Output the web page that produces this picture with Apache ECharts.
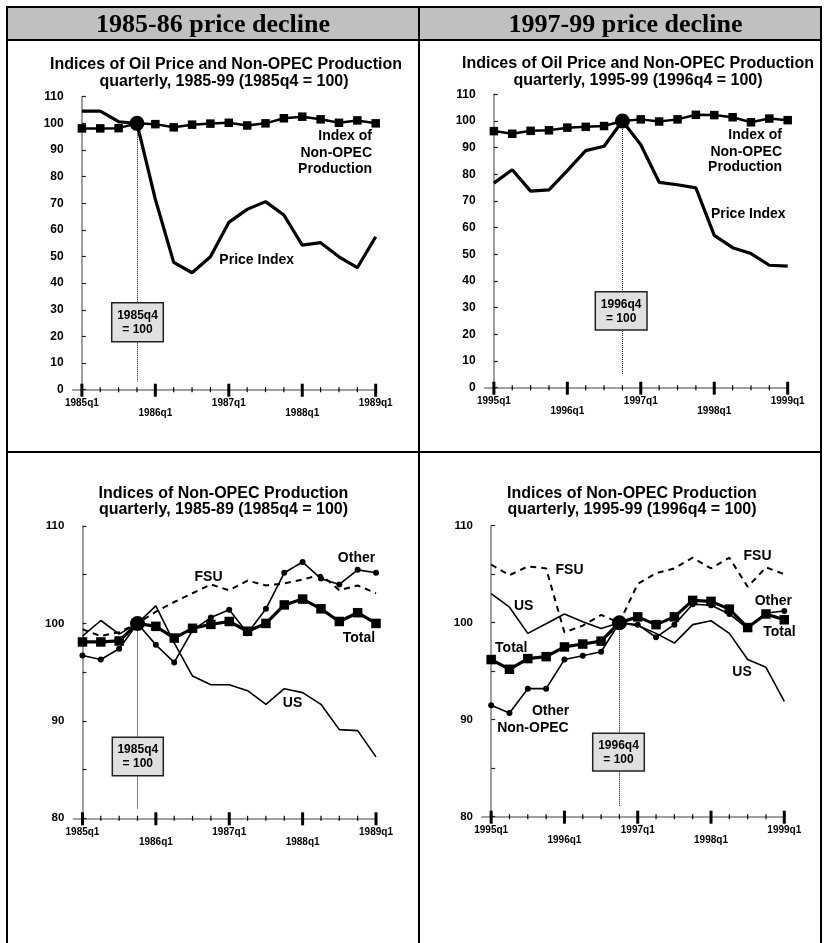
<!DOCTYPE html>
<html>
<head>
<meta charset="utf-8">
<script src="https://cdn.jsdelivr.net/npm/echarts@6/dist/echarts.min.js"></script>
<style>
  html, body { margin: 0; padding: 0; background: #fff; }
  #chart { width: 825px; height: 943px; }
</style>
</head>
<body>
<div id="chart"></div>
<script>
// Quarter positions along each x axis (0 = first quarter, 16 = last)
const quarterTicks = [0, 1, 2, 3, 4, 5, 6, 7, 8, 9, 10, 11, 12, 13, 14, 15, 16];
const yearLabels8589 = ['1985q1', '1986q1', '1987q1', '1988q1', '1989q1'];
const yearLabels9599 = ['1995q1', '1996q1', '1997q1', '1998q1', '1999q1'];

// 1985q1 .. 1989q1 (1985q4 = 100)
const price8589 = [104.6, 104.6, 100.6, 100, 71.5, 47.8, 43.9, 49.9, 62.8, 67.7, 70.6, 65.6, 54.3, 55.2, 49.9, 45.8, 57.4];
const total8589 = [98.1, 98.1, 98.2, 100, 99.7, 98.5, 99.5, 99.9, 100.2, 99.2, 100.0, 101.9, 102.5, 101.5, 100.2, 101.1, 100.0];
const other8589 = [96.7, 96.3, 97.4, 100, 97.8, 96.0, 99.3, 100.6, 101.4, 99.0, 101.5, 105.2, 106.3, 104.6, 104.0, 105.5, 105.2];
const us8589    = [98.7, 100.3, 98.9, 100, 101.8, 98.0, 94.6, 93.7, 93.7, 93.1, 91.7, 93.3, 92.9, 91.7, 89.1, 89.0, 86.3];
const fsu8589   = [99.4, 98.7, 99.1, 100, 101.2, 102.2, 103.1, 104.0, 103.4, 104.4, 103.9, 104.1, 104.5, 105.0, 103.4, 103.9, 103.1];
const base8589 = 3;

// 1995q1 .. 1999q1 (1996q4 = 100)
const price9599 = [76.7, 81.7, 73.7, 74.2, 81.4, 88.9, 90.5, 100, 91.1, 77.0, 76.1, 74.9, 57.1, 52.5, 50.3, 45.9, 45.6];
const total9599 = [96.2, 95.2, 96.3, 96.5, 97.5, 97.8, 98.1, 100, 100.6, 99.8, 100.6, 102.3, 102.2, 101.4, 99.5, 100.9, 100.3];
const other9599 = [91.5, 90.7, 93.2, 93.2, 96.2, 96.6, 97.0, 100, 99.8, 98.5, 99.8, 101.9, 101.8, 100.9, 99.4, 101.0, 101.2];
const us9599    = [103.0, 101.6, 98.9, 99.9, 100.9, 100.1, 99.4, 100, 99.7, 98.9, 97.9, 99.8, 100.2, 98.9, 96.2, 95.4, 91.9];
const fsu9599   = [106.0, 104.9, 105.8, 105.6, 99.0, 99.7, 100.8, 100, 104.0, 105.1, 105.6, 106.7, 105.6, 106.7, 103.7, 105.7, 105.0];
const base9599 = 7;

const SANS = "'Liberation Sans', Arial, sans-serif";
const SERIF = "'Liberation Serif', 'Times New Roman', serif";

const chart = echarts.init(document.getElementById('chart'), null, { renderer: 'canvas' });

const grids = [
  { left: 72.7, top: 96.7, width: 303, height: 293 },
  { left: 484.7, top: 94.3, width: 303, height: 293.4 },
  { left: 73.3, top: 526, width: 302.7, height: 292.3 },
  { left: 482, top: 525.7, width: 302.3, height: 291 }
];

const xAxes = grids.map((g, i) => ({
  gridIndex: i, type: 'value', min: -0.5, max: 16,
  axisLine: { show: true, lineStyle: { color: '#808080', width: 1.5 } },
  axisTick: { show: false }, axisLabel: { show: false }, splitLine: { show: false }
}));

function yAxis(i, min, max, interval, labelSize) {
  return {
    gridIndex: i, type: 'value', min, max, interval,
    axisLine: { show: true, lineStyle: { color: '#808080', width: 1.5 } },
    axisTick: { show: true, inside: true, length: 4, lineStyle: { color: '#222', width: 1.2 } },
    axisLabel: {
      margin: 9, color: '#000', fontFamily: SANS, fontWeight: 'bold', fontSize: labelSize,
      formatter: v => (v % 10 === 0 ? String(v) : '')
    },
    splitLine: { show: false }
  };
}
const yAxes = [
  yAxis(0, 0, 110, 10, 12),
  yAxis(1, 0, 110, 10, 12),
  yAxis(2, 80, 110, 5, 11.5),
  yAxis(3, 80, 110, 5, 11.5)
];

// Quarter ticks with year labels, staggered on two rows
function quarterAxis(g, yMin, labels) {
  return {
    type: 'custom', xAxisIndex: g, yAxisIndex: g, clip: false, silent: true, z: 4,
    data: quarterTicks.map(q => [q, yMin]),
    renderItem: (params, api) => {
      const q = api.value(0);
      const pt = api.coord([q, api.value(1)]);
      const major = q % 4 === 0;
      const children = [{
        type: 'line',
        shape: { x1: pt[0], y1: pt[1] - (major ? 6 : 2.5), x2: pt[0], y2: pt[1] + (major ? 7 : 2.5) },
        style: { stroke: '#000', lineWidth: major ? 3 : 1.2 }
      }];
      if (major) {
        const k = q / 4;
        children.push({
          type: 'text', x: pt[0], y: pt[1] + (k % 2 === 0 ? 13.5 : 23.5),
          style: { text: labels[k], font: 'bold 10px ' + SANS, fill: '#000', align: 'center', verticalAlign: 'middle' }
        });
      }
      return { type: 'group', children };
    }
  };
}

function pts(arr) { return arr.map((v, i) => [i, v]); }
function withBase(arr, base, size) {
  return arr.map((v, i) => (i === base ? { value: [i, v], symbol: 'circle', symbolSize: size } : [i, v]));
}
function baseLine(g, base, top, bottom) {
  return {
    silent: true, symbol: 'none', label: { show: false },
    lineStyle: { type: 'dotted', color: '#000', width: 1 },
    data: [[{ coord: [base, top] }, { coord: [base, bottom] }]]
  };
}

const series = [];
// Price and production panels
[[0, price8589, total8589, base8589, 3.0], [1, price9599, total9599, base9599, 4.7]].forEach(([g, price, prod, base, lineBottom]) => {
  series.push({
    type: 'line', xAxisIndex: g, yAxisIndex: g, data: pts(price), symbol: 'none',
    lineStyle: { color: '#000', width: 3.2 }, z: 2, silent: true
  });
  series.push({
    type: 'line', xAxisIndex: g, yAxisIndex: g, data: withBase(prod, base, 15),
    symbol: 'rect', symbolSize: 8.5, itemStyle: { color: '#000' },
    lineStyle: { color: '#000', width: 2.5 }, z: 3, silent: true,
    markLine: baseLine(g, base, 97, lineBottom)
  });
  series.push(quarterAxis(g, 0, g === 0 ? yearLabels8589 : yearLabels9599));
});

// Non-OPEC production panels
[[2, total8589, other8589, us8589, fsu8589, base8589, 80.9, yearLabels8589],
 [3, total9599, other9599, us9599, fsu9599, base9599, 81.0, yearLabels9599]].forEach(([g, total, other, us, fsu, base, lineBottom, labels]) => {
  series.push({
    type: 'line', xAxisIndex: g, yAxisIndex: g, data: pts(fsu), symbol: 'none',
    lineStyle: { color: '#000', width: 2, type: [6, 5] }, z: 2, silent: true,
    markLine: baseLine(g, base, 100, lineBottom)
  });
  series.push({
    type: 'line', xAxisIndex: g, yAxisIndex: g, data: pts(us), symbol: 'none',
    lineStyle: { color: '#000', width: 1.6 }, z: 2, silent: true
  });
  series.push({
    type: 'line', xAxisIndex: g, yAxisIndex: g, data: pts(other), symbol: 'circle', symbolSize: 6,
    itemStyle: { color: '#000' }, lineStyle: { color: '#000', width: 1.6 }, z: 3, silent: true
  });
  series.push({
    type: 'line', xAxisIndex: g, yAxisIndex: g, data: withBase(total, base, 15),
    symbol: 'rect', symbolSize: 9.5, itemStyle: { color: '#000' },
    lineStyle: { color: '#000', width: 3.2 }, z: 4, silent: true
  });
  series.push(quarterAxis(g, 80, labels));
});

// Text helpers for the frame and annotations
function txt(text, x, y, opts, z) {
  return {
    type: 'text', x, y, silent: true, z: z || 10,
    style: Object.assign({ text, font: 'bold 14px ' + SANS, fill: '#000', align: 'center', verticalAlign: 'middle' }, opts || {})
  };
}
function line(x1, y1, x2, y2, w) {
  return { type: 'line', silent: true, z: 20, shape: { x1, y1, x2, y2 }, style: { stroke: '#000', lineWidth: w || 2 } };
}
function baseBox(x, y, w, h, label) {
  return [
    { type: 'rect', silent: true, z: 12, shape: { x, y, width: w, height: h }, style: { fill: '#e0e0e0', stroke: '#222', lineWidth: 1.5 } },
    txt(label, x + w / 2, y + h / 2 + 0.5, { font: 'bold 12px ' + SANS, lineHeight: 14 }, 14)
  ];
}

const graphic = [
  // header bands
  { type: 'rect', silent: true, z: 1, shape: { x: 7, y: 7, width: 412, height: 33 }, style: { fill: '#c0c0c0' } },
  { type: 'rect', silent: true, z: 1, shape: { x: 419, y: 7, width: 402, height: 33 }, style: { fill: '#c0c0c0' } },
  txt('1985-86 price decline', 213, 25, { font: 'bold 26px ' + SERIF }),
  txt('1997-99 price decline', 625.5, 25, { font: 'bold 26px ' + SERIF }),
  // frame
  line(6, 7, 822, 7), line(6, 40, 822, 40), line(6, 452, 822, 452),
  line(7, 6, 7, 943), line(419, 6, 419, 943), line(821, 6, 821, 943),
  // chart titles
  txt('Indices of Oil Price and Non-OPEC Production', 226, 65, { font: 'bold 16px ' + SANS }),
  txt('quarterly, 1985-99 (1985q4 = 100)', 224, 82, { font: 'bold 16px ' + SANS }),
  txt('Indices of Oil Price and Non-OPEC Production', 638, 64, { font: 'bold 16px ' + SANS }),
  txt('quarterly, 1995-99 (1996q4 = 100)', 638, 80.5, { font: 'bold 16px ' + SANS }),
  txt('Indices of Non-OPEC Production', 223.5, 493.5, { font: 'bold 16px ' + SANS }),
  txt('quarterly, 1985-89 (1985q4 = 100)', 223.5, 510, { font: 'bold 16px ' + SANS }),
  txt('Indices of Non-OPEC Production', 632, 493.5, { font: 'bold 16px ' + SANS }),
  txt('quarterly, 1995-99 (1996q4 = 100)', 632, 510, { font: 'bold 16px ' + SANS }),
  // series labels
  txt('Index of', 372, 136, { align: 'right' }),
  txt('Non-OPEC', 372, 153, { align: 'right' }),
  txt('Production', 372, 169.5, { align: 'right' }),
  txt('Price Index', 256.7, 260),
  txt('Index of', 782, 135, { align: 'right' }),
  txt('Non-OPEC', 782, 151.7, { align: 'right' }),
  txt('Production', 782, 166.7, { align: 'right' }),
  txt('Price Index', 748.3, 214.3),
  txt('FSU', 208.5, 577),
  txt('Other', 356.5, 557.7),
  txt('Total', 359, 638),
  txt('US', 292.5, 703.3),
  txt('FSU', 569.5, 570),
  txt('FSU', 757.5, 556),
  txt('US', 523.7, 605.7),
  txt('Other', 773.3, 601),
  txt('Total', 779.5, 632.3),
  txt('Total', 511.3, 648.3),
  txt('Other', 569.3, 711, { align: 'right' }),
  txt('Non-OPEC', 568.7, 728.3, { align: 'right' }),
  txt('US', 742, 671.7)
]
  .concat(baseBox(111.7, 302.7, 51.6, 39, '1985q4\n= 100'))
  .concat(baseBox(595.3, 291.7, 51.7, 38.3, '1996q4\n= 100'))
  .concat(baseBox(112.3, 737.3, 51, 38.4, '1985q4\n= 100'))
  .concat(baseBox(592.7, 733.3, 51.6, 37.7, '1996q4\n= 100'));

chart.setOption({
  animation: false,
  backgroundColor: '#fff',
  grid: grids,
  xAxis: xAxes,
  yAxis: yAxes,
  series,
  graphic
});
</script>
</body>
</html>
